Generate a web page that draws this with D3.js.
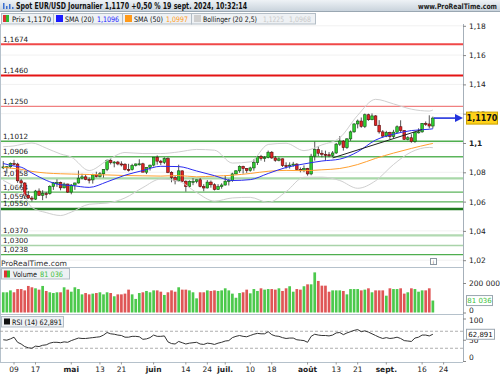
<!DOCTYPE html>
<html>
<head>
<meta charset="utf-8">
<script src="https://cdn.jsdelivr.net/npm/d3@7"></script>
<style>
body { margin: 0; background: #fff; }
svg { display: block; font-family: "DejaVu Sans", Verdana, sans-serif; }
</style>
</head>
<body>
<div id="chart"></div>
<script>
// EUR/USD daily candles, first bar = 2024-04-04 (trading days only)
const startDay = "2024-04-04";

const opens = [1.0836,1.0837,
  1.0838,1.0860,1.0856,1.0742,1.0727, 1.0643,1.0624,1.0617,1.0672,1.0643,
  1.0655,1.0654,1.0703,1.0729,1.0730, 1.0694,1.0720,1.0665,1.0713,1.0727,
  1.0760,1.0769,1.0752,1.0748,1.0782, 1.0770,1.0790,1.0820,1.0882,1.0866,
  1.0870,1.0857,1.0855,1.0820,1.0818, 1.0846,1.0857,1.0858,1.0801,1.0832,
  1.0849,1.0903,1.0876,1.0868,1.0893, 1.0800,1.0764,1.0742,1.0810,1.0739,
  1.0703,1.0737,1.0738,1.0749,1.0703, 1.0693,1.0733,1.0715,1.0683,1.0702,
  1.0713,1.0739,1.0743,1.0789,1.0810, 1.0840,1.0826,1.0812,1.0830,1.0866,
  1.0907,1.0894,1.0900,1.0937,1.0898, 1.0882,1.0892,1.0846,1.0843,1.0849,
  1.0856,1.0820,1.0816,1.0825,1.0789, 1.0910,1.0955,1.0930,1.0923,1.0920,
  1.0916,1.0932,1.0992,1.1013,1.0968, 1.1028,1.1076,1.1130,1.1150,1.1113,
  1.1193,1.1159,1.1185,1.1121,1.1076, 1.1047,1.1072,1.1044,1.1074,1.1111,
  1.1085,1.1025,1.1036,1.1011,1.1074, 1.1076,1.1134,1.1130,1.1116];

const highs = [1.0876,1.0842,
  1.0867,1.0885,1.0865,1.0755,1.0733, 1.0672,1.0638,1.0680,1.0690,1.0678,
  1.0666,1.0712,1.0733,1.0752,1.0736, 1.0730,1.0722,1.0720,1.0730,1.0812,
  1.0790,1.0783,1.0765,1.0790,1.0804, 1.0802,1.0821,1.0888,1.0895,1.0877,
  1.0878,1.0875,1.0862,1.0858,1.0858, 1.0860,1.0889,1.0865,1.0835,1.0852,
  1.0904,1.0915,1.0885,1.0902,1.0902, 1.0807,1.0777,1.0852,1.0812,1.0745,
  1.0745,1.0760,1.0750,1.0761,1.0719, 1.0747,1.0744,1.0725,1.0719,1.0725,
  1.0776,1.0755,1.0797,1.0815,1.0847, 1.0845,1.0829,1.0838,1.0890,1.0910,
  1.0919,1.0911,1.0948,1.0945,1.0911, 1.0902,1.0894,1.0868,1.0868,1.0871,
  1.0862,1.0833,1.0847,1.0830,1.0926, 1.1009,1.0978,1.0951,1.0948,1.0938,
  1.0945,1.1000,1.1047,1.1020,1.1034, 1.1085,1.1135,1.1160,1.1174,1.1201,
  1.1200,1.1202,1.1190,1.1156,1.1088, 1.1083,1.1077,1.1090,1.1120,1.1155,
  1.1087,1.1047,1.1060,1.1075,1.1100, 1.1136,1.1147,1.1189,1.1180];

const lows = [1.0822,1.0792,
  1.0826,1.0848,1.0728,1.0698,1.0622, 1.0620,1.0601,1.0611,1.0640,1.0610,
  1.0623,1.0647,1.0680,1.0700,1.0677, 1.0690,1.0659,1.0650,1.0680,1.0723,
  1.0752,1.0746,1.0724,1.0723,1.0765, 1.0765,1.0764,1.0808,1.0854,1.0834,
  1.0848,1.0840,1.0812,1.0805,1.0812, 1.0840,1.0846,1.0800,1.0788,1.0812,
  1.0840,1.0852,1.0850,1.0856,1.0794, 1.0732,1.0718,1.0736,1.0734,1.0668,
  1.0695,1.0712,1.0725,1.0697,1.0671, 1.0690,1.0695,1.0676,1.0680,1.0688,
  1.0710,1.0710,1.0735,1.0785,1.0797, 1.0791,1.0796,1.0804,1.0811,1.0850,
  1.0880,1.0872,1.0895,1.0892,1.0872, 1.0875,1.0837,1.0825,1.0825,1.0838,
  1.0812,1.0800,1.0801,1.0777,1.0780, 1.0880,1.0910,1.0902,1.0880,1.0903,
  1.0905,1.0925,1.0980,1.0948,1.0960, 1.1015,1.1070,1.1100,1.1104,1.1102,
  1.1151,1.1155,1.1117,1.1064,1.1037, 1.1040,1.1026,1.1033,1.1068,1.1075,
  1.1023,1.1018,1.1002,1.1001,1.1065, 1.1070,1.1117,1.1100,1.1099];

const closes = [1.0837,1.0838,
  1.0860,1.0856,1.0742,1.0727,1.0643, 1.0624,1.0617,1.0672,1.0643,1.0655,
  1.0654,1.0703,1.0729,1.0730,1.0694, 1.0720,1.0665,1.0713,1.0727,1.0760,
  1.0769,1.0752,1.0748,1.0782,1.0770, 1.0790,1.0820,1.0882,1.0866,1.0870,
  1.0857,1.0855,1.0820,1.0818,1.0846, 1.0857,1.0858,1.0801,1.0832,1.0849,
  1.0903,1.0876,1.0868,1.0893,1.0800, 1.0764,1.0742,1.0810,1.0739,1.0703,
  1.0737,1.0738,1.0749,1.0703,1.0693, 1.0733,1.0715,1.0683,1.0702,1.0713,
  1.0739,1.0743,1.0789,1.0810,1.0840, 1.0826,1.0812,1.0830,1.0866,1.0907,
  1.0894,1.0900,1.0937,1.0898,1.0882, 1.0892,1.0846,1.0843,1.0849,1.0856,
  1.0820,1.0816,1.0825,1.0789,1.0910, 1.0955,1.0930,1.0923,1.0920,1.0916,
  1.0932,1.0992,1.1013,1.0968,1.1028, 1.1076,1.1130,1.1150,1.1113,1.1193,
  1.1159,1.1185,1.1121,1.1076,1.1047, 1.1072,1.1044,1.1074,1.1111,1.1085,
  1.1025,1.1036,1.1011,1.1074,1.1076, 1.1134,1.1130,1.1116,1.1170];

const volumes = [137000,137000,
  150000,137000,159000,159000,150000, 180000,171000,164000,155000,180000,
  146000,137000,132000,137000,137000, 171000,155000,141000,171000,159000,
  123000,132000,123000,128000,132000, 137000,123000,137000,132000,110000,
  123000,123000,128000,155000,123000, 92000,132000,137000,146000,137000,
  150000,150000,141000,119000,137000, 150000,141000,171000,155000,155000,
  150000,137000,96000,137000,137000, 150000,146000,150000,146000,150000,
  164000,150000,128000,100000,132000, 137000,155000,130000,159000,146000,
  164000,155000,159000,159000,155000, 164000,146000,164000,178000,141000,
  159000,155000,178000,191000,191000, 272000,214000,182000,182000,141000,
  150000,150000,150000,146000,123000, 159000,159000,159000,150000,155000,
  164000,137000,150000,150000,150000, 114000,164000,159000,159000,164000,
  128000,137000,164000,159000,141000, 150000,150000,164000,81036];

const rsi14 = [50,49,
  52,56,44,40,34, 31,30,35,34,37,
  38,42,44,44,43, 45,44,48,51,54,
  53,53,54,55,56, 57,61,67,64,63,
  61,60,56,56,58, 58,57,51,52,55,
  61,58,58,59,45, 41,40,46,43,40,
  42,43,44,40,39, 42,41,39,42,44,
  47,48,55,58,60, 58,57,60,63,65,
  64,64,69,62,59, 58,55,53,54,54,
  50,49,48,44,58, 63,61,60,60,59,
  61,66,67,62,66, 69,72,74,69,71,
  68,64,60,56,53, 55,53,54,56,53,
  48,47,46,54,56, 61,61,59,62.891];

// indicator lines read at these trading days
const indDays = [0,3,5,8,12,16,19,24,29,34,39,44,49,54,59,64,69,74,79,84,89,94,99,104,109,114,119,120];
const sma20 = [1.0860,1.0843,1.0835,1.0795,1.0745,1.0715,1.0710,1.0697,1.0735,1.0780,1.0812,1.0841,1.0839,1.0809,
  1.0777,1.0744,1.0750,1.0792,1.0833,1.0857,1.0877,1.0890,1.0940,1.1020,1.1060,1.1085,1.1094,1.1097];
const sma50 = [1.0834,1.0826,1.0820,1.0806,1.0795,1.0790,1.0788,1.0785,1.0782,1.0778,1.0776,1.0774,1.0778,1.0769,
  1.0774,1.0780,1.0792,1.0807,1.0813,1.0811,1.0817,1.0826,1.0853,1.0895,1.0931,1.0963,1.0992,1.0997];
const bollUp = [1.0975,1.0980,1.0990,1.1000,1.0965,1.0925,1.0904,1.0812,1.0880,1.0935,1.0928,1.0928,1.0939,1.0956,
  1.0951,1.0863,1.0871,1.0990,1.0998,1.0948,1.0987,1.1036,1.1189,1.1298,1.1267,1.1231,1.1218,1.1225];
const bollDn = [1.0745,1.0706,1.0680,1.0560,1.0525,1.0505,1.0528,1.0582,1.0590,1.0625,1.0696,1.0754,1.0739,1.0662,
  1.0603,1.0625,1.0629,1.0594,1.0668,1.0766,1.0767,1.0744,1.0691,1.0742,1.0853,1.0939,1.0970,1.0968];

// support / resistance levels
const levels = [1.1674,1.1460,1.1250,1.1012,1.0906,1.0758,1.0664,1.0598,1.0550,1.0370,1.0300,1.0238];
const levelLabels = ["1,1674","1,1460","1,1250","1,1012","1,0906","1,0758","1,0664","1,0598","1,0550","1,0370","1,0300","1,0238"];

// trend line drawn on the chart
const trendDays = [92, 117];
const trendValues = [1.0898, 1.1092];

const priceTicks = [1.02,1.04,1.06,1.08,1.1,1.12,1.14,1.16,1.18];
const xTickDates = ["2024-04-09","2024-04-17","2024-05-01","2024-05-13","2024-05-21","2024-06-03","2024-06-14","2024-06-24",
  "2024-07-01","2024-07-10","2024-07-18","2024-08-01","2024-08-13","2024-08-21","2024-09-02","2024-09-16","2024-09-24"];
const xTickLabels = ["09","17","mai","13","21","juin","14","24","juil.","10","18","août","13","21","sept.","16","24"];
const monthLabels = ["mai","juin","juil.","août","sept."];

function dayIndex(iso) {
    let d = new Date(startDay + "T00:00:00Z");
    const end = new Date(iso + "T00:00:00Z");
    let n = 0;
    while (d < end) {
        d.setUTCDate(d.getUTCDate() + 1);
        const w = d.getUTCDay();
        if (w !== 0 && w !== 6) n++;
    }
    return n;
}

const W = 500, H = 375;
const axisX = 463;

const svg = d3.select("#chart").append("svg")
    .attr("width", W)
    .attr("height", H);

const defs = svg.append("defs");
const hg = defs.append("linearGradient").attr("id", "hdr").attr("x1", 0).attr("x2", 0).attr("y1", 0).attr("y2", 1);
hg.append("stop").attr("offset", "0%").attr("stop-color", "#eef2f6");
hg.append("stop").attr("offset", "100%").attr("stop-color", "#c9d3dc");
defs.append("clipPath").attr("id", "mainClip")
    .append("rect").attr("x", 1).attr("y", 25).attr("width", axisX - 1).attr("height", 242);

// scales
const x = d3.scaleLinear().domain([0, 120]).range([3.26, 432.86]);
const yP = d3.scaleLinear().domain([1.02, 1.18]).range([260.2, 25.8]);
const yV = d3.scaleLinear().domain([0, 200000]).range([312.5, 283]);
const yR = d3.scaleLinear().domain([0, 100]).range([361, 318.5]);

// ---- header
svg.append("rect").attr("x", 0).attr("y", 0).attr("width", W).attr("height", 11).attr("fill", "url(#hdr)");
svg.append("line").attr("x1", 0).attr("x2", W).attr("y1", 11.5).attr("y2", 11.5).attr("stroke", "#9aa7b2");
[[3, 6], [6, 3], [9, 5], [12, 2]].forEach(function (b) {
    svg.append("rect").attr("x", b[0]).attr("y", 9 - b[1]).attr("width", 1.5).attr("height", b[1]).attr("fill", "#3b6fd0");
});
svg.append("text")
    .attr("x", 16).attr("y", 9)
    .attr("font-size", "8.5px").attr("font-weight", "bold").attr("fill", "#111")
    .attr("textLength", 231).attr("lengthAdjust", "spacingAndGlyphs")
    .text("Spot EUR/USD Journalier 1,1170 +0,50 % 19 sept. 2024, 10:32:14");
svg.append("text")
    .attr("x", 497).attr("y", 8.5)
    .attr("text-anchor", "end")
    .attr("font-size", "7.5px").attr("font-weight", "bold").attr("fill", "#222")
    .attr("textLength", 79).attr("lengthAdjust", "spacingAndGlyphs")
    .text("www.ProRealTime.com");

// ---- legend row
const legendBoxes = [[1, 52], [53, 69], [122, 69], [191, 124]];
legendBoxes.forEach(function (b) {
    svg.append("rect").attr("x", b[0] + 0.5).attr("y", 13.5).attr("width", b[1]).attr("height", 10.5)
        .attr("fill", "#eef1f4").attr("stroke", "#b3bdc6");
});
svg.append("rect").attr("x", 3).attr("y", 15).attr("width", 3).attr("height", 7).attr("fill", "#d33");
svg.append("rect").attr("x", 6).attr("y", 15).attr("width", 3).attr("height", 7).attr("fill", "#3b3");
svg.append("rect").attr("x", 56).attr("y", 15).attr("width", 7).attr("height", 7).attr("fill", "#1a1aff");
svg.append("rect").attr("x", 125).attr("y", 15).attr("width", 7).attr("height", 7).attr("fill", "#ff9a1a");
svg.append("rect").attr("x", 194).attr("y", 15).attr("width", 7).attr("height", 7).attr("fill", "#cfcfcf");

function legendText(xp, w, txt, color) {
    svg.append("text").attr("x", xp).attr("y", 21.5)
        .attr("font-size", "7.5px").attr("fill", color)
        .attr("textLength", w).attr("lengthAdjust", "spacingAndGlyphs")
        .text(txt);
}
legendText(12, 39, "Prix 1,1170", "#111");
legendText(65, 29, "SMA (20)", "#111");
legendText(97, 22, "1,1096", "#1a1aff");
legendText(134, 29, "SMA (50)", "#111");
legendText(166, 22, "1,0997", "#ff9a1a");
legendText(203, 54, "Bollinger (20 2,5)", "#111");
legendText(263, 21, "1,1225", "#c8c8c8");
legendText(289, 22, "1,0968", "#c8c8c8");

// ---- panel frames
svg.append("line").attr("x1", 0.5).attr("x2", 0.5).attr("y1", 24).attr("y2", 362).attr("stroke", "#b5c1cb");
svg.append("line").attr("x1", axisX + 0.5).attr("x2", axisX + 0.5).attr("y1", 24).attr("y2", 362).attr("stroke", "#a6b0ba");
[267.5, 314.5, 362.5].forEach(function (yy) {
    svg.append("line").attr("x1", 0).attr("x2", axisX).attr("y1", yy).attr("y2", yy).attr("stroke", "#b5c1cb");
});

// ---- main price panel
const main = svg.append("g").attr("clip-path", "url(#mainClip)");

main.selectAll(".grid").data(priceTicks).enter().append("line")
    .attr("x1", 0).attr("x2", axisX)
    .attr("y1", function (d) { return yP(d); }).attr("y2", function (d) { return yP(d); })
    .attr("stroke", "#f1f1f1");

const levelStyle = [
    {c: "#f04848", w: 2}, {c: "#e41414", w: 2}, {c: "#f08080", w: 1.2}, {c: "#4fae4f", w: 1.6},
    {c: "#5cb55c", w: 1.4}, {c: "#a9d8a9", w: 2.2}, {c: "#5cb55c", w: 1.2}, {c: "#5cb55c", w: 1.2},
    {c: "#1f7a1f", w: 2.4}, {c: "#b2d9b2", w: 2.2}, {c: "#a9d3a9", w: 1.6}, {c: "#4fae4f", w: 1.2}
];
main.selectAll(".lvl").data(levels).enter().append("line")
    .attr("x1", 0).attr("x2", axisX)
    .attr("y1", function (d) { return yP(d); }).attr("y2", function (d) { return yP(d); })
    .attr("stroke", function (d, i) { return levelStyle[i].c; })
    .attr("stroke-width", function (d, i) { return levelStyle[i].w; });

main.selectAll(".lvlLabel").data(levels).enter().append("text")
    .attr("x", 3).attr("y", function (d) { return yP(d) - 2.5; })
    .attr("font-size", "7.2px").attr("fill", "#222")
    .text(function (d, i) { return levelLabels[i]; });

// candles
const candleIdx = d3.range(closes.length);
const candles = main.append("g");
candles.selectAll(".wick").data(candleIdx).enter().append("line")
    .attr("x1", function (i) { return x(i); }).attr("x2", function (i) { return x(i); })
    .attr("y1", function (i) { return yP(highs[i]); }).attr("y2", function (i) { return yP(lows[i]); })
    .attr("stroke", "#2a2a2a").attr("stroke-width", 0.8);
candles.selectAll(".body").data(candleIdx).enter().append("rect")
    .attr("x", function (i) { return x(i) - 1.3; })
    .attr("width", 2.6)
    .attr("y", function (i) { return yP(Math.max(opens[i], closes[i])); })
    .attr("height", function (i) { return Math.max(1, Math.abs(yP(opens[i]) - yP(closes[i]))); })
    .attr("fill", function (i) { return closes[i] >= opens[i] ? "#2fd02f" : "#e02424"; })
    .attr("stroke", function (i) { return closes[i] >= opens[i] ? "#145214" : "#5a0a0a"; })
    .attr("stroke-width", 0.6);

// indicators
const indLine = function (vals) {
    return d3.line()
        .x(function (d, k) { return x(indDays[k]); })
        .y(function (d) { return yP(d); })
        .curve(d3.curveMonotoneX)(vals);
};
main.append("path").attr("d", indLine(bollUp)).attr("fill", "none").attr("stroke", "#cfcfcf").attr("stroke-width", 1);
main.append("path").attr("d", indLine(bollDn)).attr("fill", "none").attr("stroke", "#cfcfcf").attr("stroke-width", 1);
main.append("path").attr("d", indLine(sma50)).attr("fill", "none").attr("stroke", "#ffa030").attr("stroke-width", 1);
main.append("path").attr("d", indLine(sma20)).attr("fill", "none").attr("stroke", "#2b2bf0").attr("stroke-width", 1);

main.append("line")
    .attr("x1", x(trendDays[0])).attr("y1", yP(trendValues[0]))
    .attr("x2", x(trendDays[1])).attr("y2", yP(trendValues[1]))
    .attr("stroke", "#222").attr("stroke-width", 1);

// last price arrow
const lastY = yP(closes[closes.length - 1]);
svg.append("line").attr("x1", x(120) + 1).attr("x2", 455).attr("y1", lastY).attr("y2", lastY)
    .attr("stroke", "#2233dd").attr("stroke-width", 1.6);
svg.append("path")
    .attr("d", "M455," + (lastY - 4) + "L463," + lastY + "L455," + (lastY + 4) + "Z")
    .attr("fill", "#2233dd");

// right price axis
const pAxis = svg.append("g").attr("transform", "translate(" + axisX + ",0)")
    .call(d3.axisRight(yP).tickValues(priceTicks).tickSize(3)
        .tickFormat(function (d) { return String(d).replace(".", ","); }));
pAxis.select(".domain").remove();
pAxis.selectAll("line").attr("stroke", "#888");
pAxis.selectAll("text").attr("font-size", "7.5px").attr("fill", "#222").attr("x", 6)
    .attr("font-weight", function (d) { return d === 1.1 ? "bold" : "normal"; })
    .attr("font-family", "DejaVu Sans, sans-serif");

svg.append("rect").attr("x", 466.5).attr("y", lastY - 6).attr("width", 31).attr("height", 12)
    .attr("fill", "#ffd21a").attr("stroke", "#c9a200");
svg.append("text").attr("x", 482).attr("y", lastY + 3)
    .attr("text-anchor", "middle").attr("font-size", "8px").attr("font-weight", "bold").attr("fill", "#111")
    .text("1,1170");

// footer of main panel
svg.append("text").attr("x", 1).attr("y", 265.5).attr("font-size", "7.5px").attr("fill", "#333")
    .attr("textLength", 66).attr("lengthAdjust", "spacingAndGlyphs")
    .text("ProRealTime.com");
svg.append("rect").attr("x", 430.5).attr("y", 258.5).attr("width", 6).attr("height", 6)
    .attr("fill", "#fff").attr("stroke", "#8a96a0");
svg.append("text").attr("x", 433.5).attr("y", 263.7).attr("text-anchor", "middle")
    .attr("font-size", "5px").attr("fill", "#555").text("i");

// ---- volume panel
svg.append("g").selectAll("rect").data(candleIdx).enter().append("rect")
    .attr("x", function (i) { return x(i) - 1.35; })
    .attr("width", 2.7)
    .attr("y", function (i) { return yV(volumes[i]); })
    .attr("height", function (i) { return yV(0) - yV(volumes[i]); })
    .attr("fill", function (i) { return closes[i] >= opens[i] ? "#4cc94c" : "#df5656"; });

svg.append("rect").attr("x", 1.5).attr("y", 268.5).attr("width", 68).attr("height", 10.5)
    .attr("fill", "#eef1f4").attr("stroke", "#b3bdc6");
svg.append("rect").attr("x", 4).attr("y", 270.5).attr("width", 3).attr("height", 7).attr("fill", "#d33");
svg.append("rect").attr("x", 7).attr("y", 270.5).attr("width", 3).attr("height", 7).attr("fill", "#3b3");
svg.append("text").attr("x", 13).attr("y", 276.8).attr("font-size", "7.5px").attr("fill", "#111")
    .attr("textLength", 24).attr("lengthAdjust", "spacingAndGlyphs").text("Volume");
svg.append("text").attr("x", 40).attr("y", 276.8).attr("font-size", "7.5px").attr("fill", "#3cbf3c")
    .attr("textLength", 23).attr("lengthAdjust", "spacingAndGlyphs").text("81 036");

const vAxis = svg.append("g").attr("transform", "translate(" + axisX + ",0)")
    .call(d3.axisRight(yV).tickValues([0, 200000]).tickSize(3)
        .tickFormat(function (d) { return d === 0 ? "0" : "200 000"; }));
vAxis.select(".domain").remove();
vAxis.selectAll("line").attr("stroke", "#888");
vAxis.selectAll("text").attr("font-size", "7.5px").attr("fill", "#222").attr("x", 6)
    .attr("font-family", "DejaVu Sans, sans-serif")
    .attr("dy", function (d) { return d === 0 ? "0" : "0.32em"; });

const lastV = yV(volumes[volumes.length - 1]);
svg.append("rect").attr("x", 466.5).attr("y", lastV - 5).attr("width", 26).attr("height", 10)
    .attr("fill", "#fff").attr("stroke", "#9aa6b0");
svg.append("text").attr("x", 479.5).attr("y", lastV + 2.7).attr("text-anchor", "middle")
    .attr("font-size", "7px").attr("fill", "#3cbf3c").text("81 036");

// ---- RSI panel
[70, 30].forEach(function (lv) {
    svg.append("line").attr("x1", 0).attr("x2", axisX).attr("y1", yR(lv)).attr("y2", yR(lv))
        .attr("stroke", "#9a9a9a").attr("stroke-width", 0.8).attr("stroke-dasharray", "3,2");
});
svg.append("path")
    .attr("d", d3.line()
        .x(function (d, i) { return x(i); })
        .y(function (d) { return yR(d); })(rsi14))
    .attr("fill", "none").attr("stroke", "#333").attr("stroke-width", 1);

svg.append("rect").attr("x", 1.5).attr("y", 316.5).attr("width", 62).attr("height", 10.5)
    .attr("fill", "#eef1f4").attr("stroke", "#b3bdc6");
svg.append("rect").attr("x", 4).attr("y", 318.5).attr("width", 6).attr("height", 6).attr("fill", "#111");
svg.append("text").attr("x", 12).attr("y", 324.8).attr("font-size", "7.5px").attr("fill", "#111")
    .attr("textLength", 50).attr("lengthAdjust", "spacingAndGlyphs").text("RSI (14) 62,891");

const rAxis = svg.append("g").attr("transform", "translate(" + axisX + ",0)")
    .call(d3.axisRight(yR).tickValues([0, 50, 100]).tickSize(3));
rAxis.select(".domain").remove();
rAxis.selectAll("line").attr("stroke", "#888");
rAxis.selectAll("text").attr("font-size", "7.5px").attr("fill", "#222").attr("x", 6)
    .attr("font-family", "DejaVu Sans, sans-serif")
    .attr("dy", function (d) { return d === 0 ? "-0.2em" : (d === 100 ? "0.5em" : "0.32em"); });

const lastR = yR(rsi14[rsi14.length - 1]);
svg.append("rect").attr("x", 466.5).attr("y", lastR - 5).attr("width", 28).attr("height", 10)
    .attr("fill", "#fff").attr("stroke", "#9aa6b0");
svg.append("text").attr("x", 480.5).attr("y", lastR + 2.7).attr("text-anchor", "middle")
    .attr("font-size", "7px").attr("fill", "#111").text("62,891");

// ---- time axis
const xAxisG = svg.append("g");
xAxisG.selectAll("text").data(xTickDates).enter().append("text")
    .attr("x", function (d) { return x(dayIndex(d)); })
    .attr("y", 372)
    .attr("text-anchor", "middle")
    .attr("font-size", "7.5px")
    .attr("fill", "#222")
    .attr("font-weight", function (d, i) { return monthLabels.indexOf(xTickLabels[i]) >= 0 ? "bold" : "normal"; })
    .text(function (d, i) { return xTickLabels[i]; });
xAxisG.selectAll("line").data(xTickDates).enter().append("line")
    .attr("x1", function (d) { return x(dayIndex(d)); }).attr("x2", function (d) { return x(dayIndex(d)); })
    .attr("y1", 362).attr("y2", 364.5)
    .attr("stroke", "#999");
</script>
</body>
</html>
